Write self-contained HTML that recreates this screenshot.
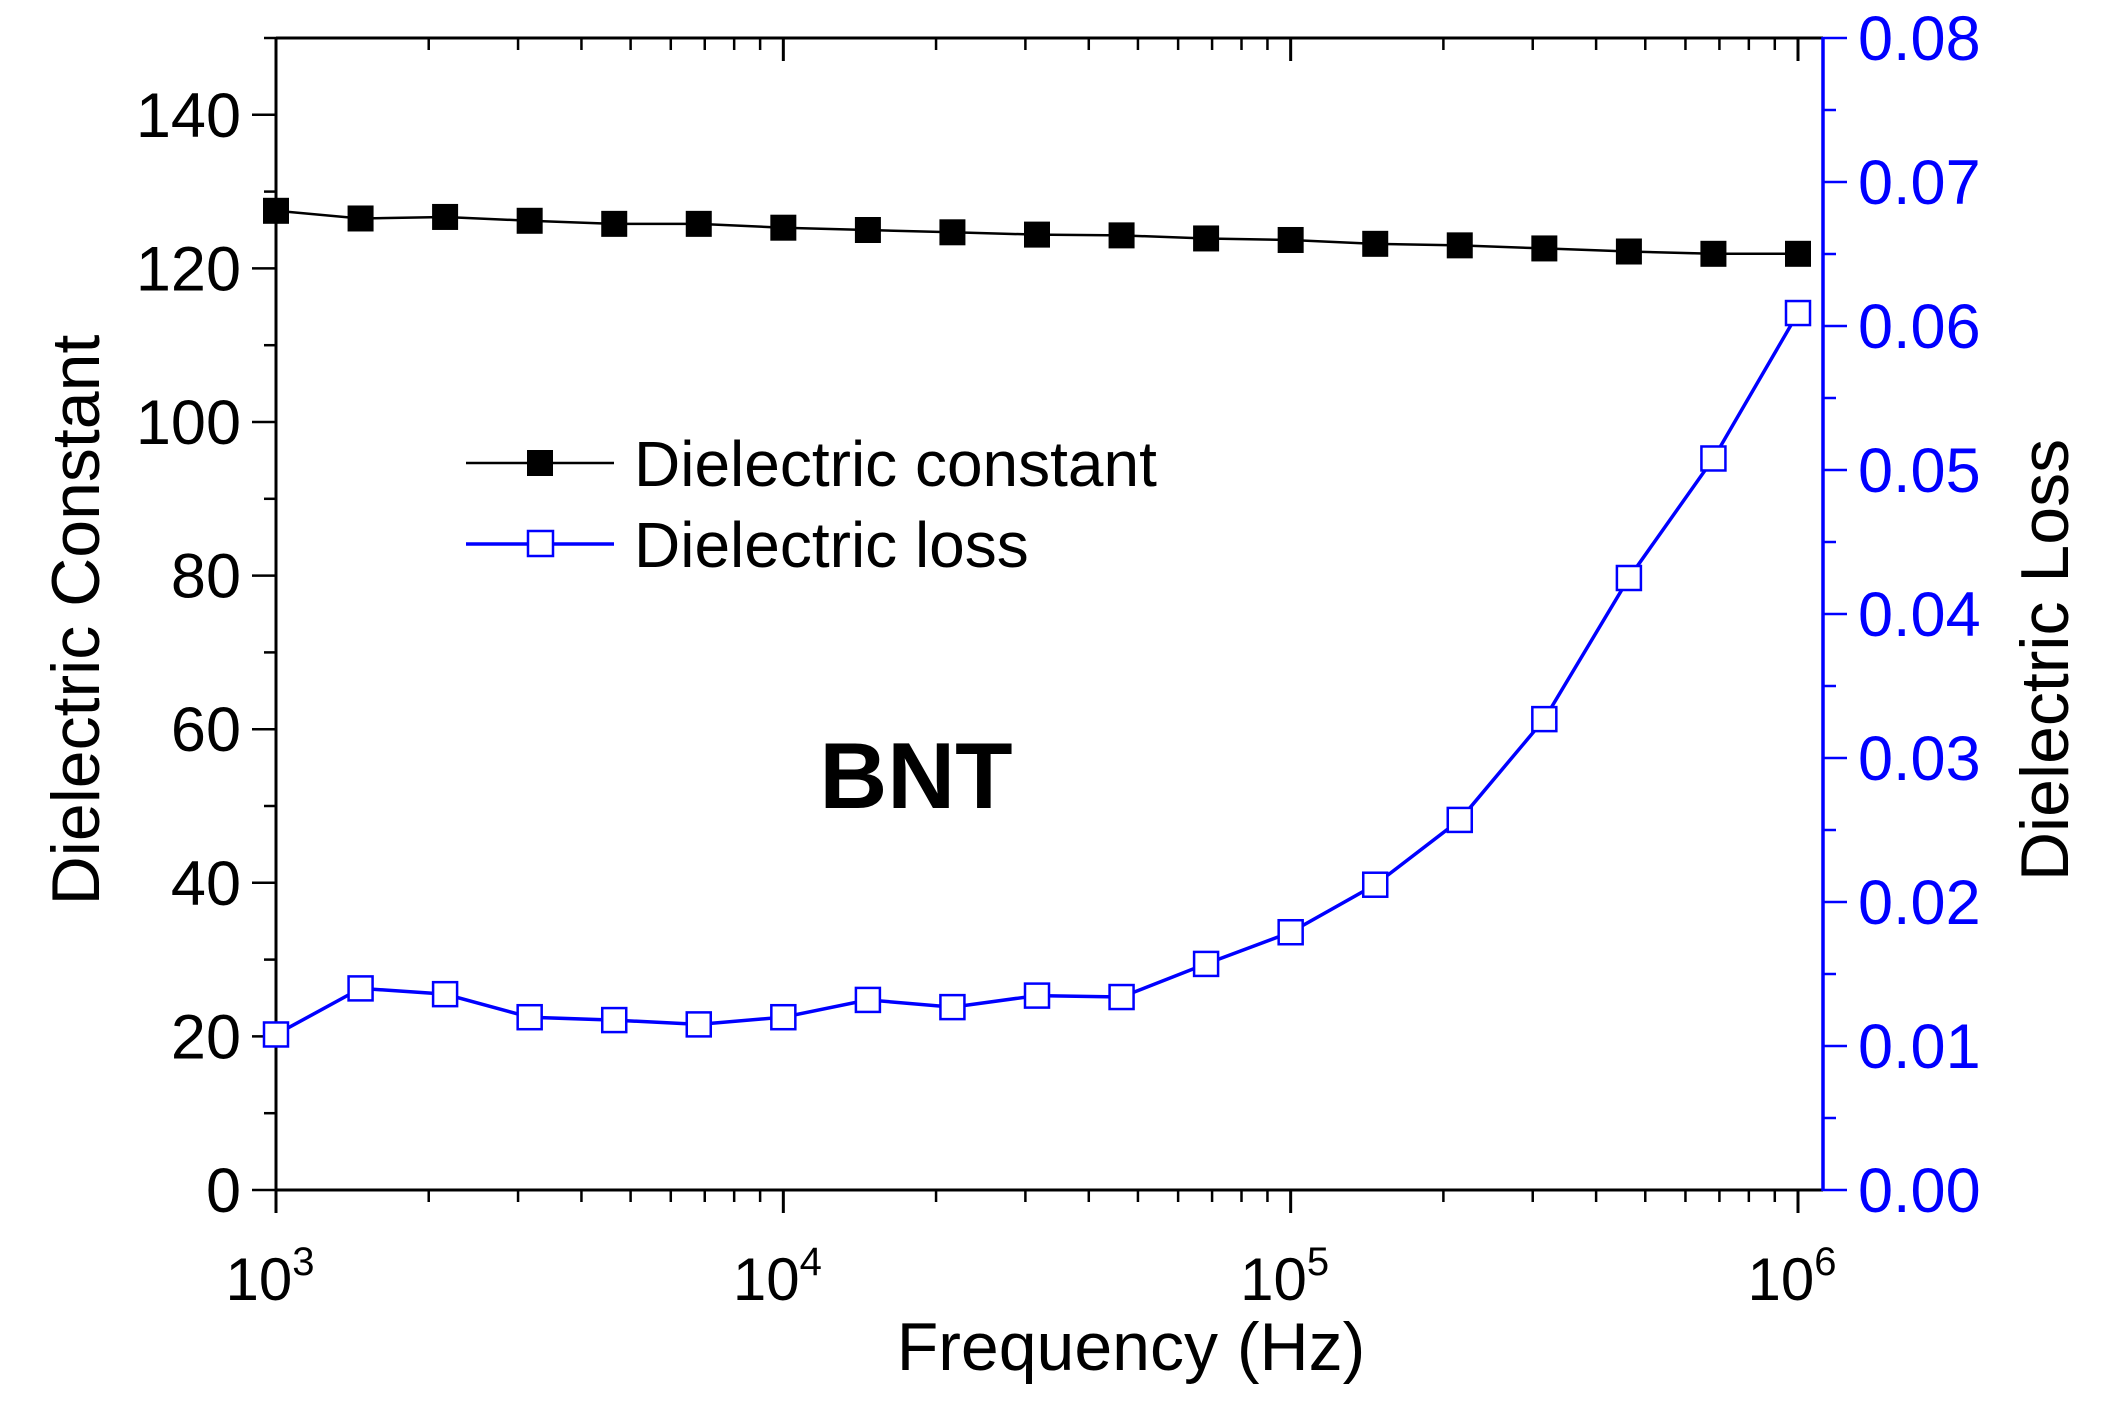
<!DOCTYPE html>
<html><head><meta charset="utf-8"><style>
body{margin:0;background:#fff}
svg text{font-family:"Liberation Sans",Arial,sans-serif}
</style></head><body>
<svg id="chart" width="2112" height="1414" viewBox="0 0 2112 1414" xmlns="http://www.w3.org/2000/svg">
<g id="axes"></g>
<g id="series"></g>
<g>
  <line x1="466" y1="463" x2="614" y2="463" stroke="#000" stroke-width="2.5"/>
  <rect x="527" y="450" width="26" height="26" fill="#000"/>
  <text x="634" y="486" font-size="64">Dielectric constant</text>
  <line x1="466" y1="544" x2="614" y2="544" stroke="#00f" stroke-width="3.5"/>
  <rect x="528" y="531" width="25" height="25" fill="#fff" stroke="#00f" stroke-width="2.5"/>
  <text x="634" y="567" font-size="64">Dielectric loss</text>
</g>
<text x="916" y="808" font-size="94" font-weight="bold" text-anchor="middle">BNT</text>
<text x="1131" y="1370" font-size="68" text-anchor="middle">Frequency (Hz)</text>
<text x="0" y="0" font-size="68" text-anchor="middle" transform="translate(99,620) rotate(-90)">Dielectric Constant</text>
<text x="0" y="0" font-size="68" text-anchor="middle" transform="translate(2068,660) rotate(-90)">Dielectric Loss</text>
</svg>
<script>
const freqExponents=[3,3.1667,3.3333,3.5,3.6667,3.8333,4,4.1667,4.3333,4.5,4.6667,4.8333,5,5.1667,5.3333,5.5,5.6667,5.8333,6];
const dielectricConstant=[127.5,126.5,126.7,126.2,125.8,125.8,125.3,125.0,124.7,124.4,124.3,123.9,123.7,123.2,123.0,122.6,122.2,121.9,121.9];
const dielectricLoss=[0.0108,0.0140,0.0136,0.0120,0.0118,0.0115,0.0120,0.0132,0.0127,0.0135,0.0134,0.0157,0.0179,0.0212,0.0257,0.0327,0.0425,0.0508,0.0609];
const leftTicks=[0,20,40,60,80,100,120,140];
const rightTicks=["0.00","0.01","0.02","0.03","0.04","0.05","0.06","0.07","0.08"];
const xDecades=[3,4,5,6];

const X0=276,X1=1798,XR=1823,YT=38,YB=1190;
const xs=e=>X0+(e-3)/3*(X1-X0);
const yl=v=>YB-v/150*(YB-YT);
const yr=v=>YB-v/0.08*(YB-YT);
const NS="http://www.w3.org/2000/svg";
function mk(tag,attrs,parent){const el=document.createElementNS(NS,tag);for(const k in attrs)el.setAttribute(k,attrs[k]);parent.appendChild(el);return el;}
const ax=document.getElementById('axes'),se=document.getElementById('series');

let el;
el=mk('line',{x1:X0,y1:YB,x2:XR,y2:YB,stroke:'#000','stroke-width':3},ax);


el=mk('line',{x1:X0,y1:YT,x2:XR,y2:YT,stroke:'#000','stroke-width':3},ax);


el=mk('line',{x1:X0,y1:YT,x2:X0,y2:YB,stroke:'#000','stroke-width':3},ax);


el=mk('line',{x1:XR,y1:YT-1,x2:XR,y2:YB+1,stroke:'#00f','stroke-width':3.5},ax);



for(let d=3;d<=6;d++){
  const x=xs(d);
  el=mk('line',{x1:x,y1:YB,x2:x,y2:YB+23,stroke:'#000','stroke-width':3},ax);
  
  
  el=mk('line',{x1:x,y1:YT,x2:x,y2:YT+23,stroke:'#000','stroke-width':3},ax);
  
  
  if(d<6)for(let m=2;m<=9;m++){
    const xm=xs(d+Math.log10(m));
    el=mk('line',{x1:xm,y1:YB,x2:xm,y2:YB+12,stroke:'#000','stroke-width':2.5},ax);
    
    
    el=mk('line',{x1:xm,y1:YT,x2:xm,y2:YT+12,stroke:'#000','stroke-width':2.5},ax);
    
    
  }
}
xDecades.forEach(d=>{
  const t=mk('text',{x:xs(d)-6,y:1300,'font-size':60,'text-anchor':'middle'},ax);
  
  
  t.textContent='10';
  const s=mk('tspan',{dy:-25,'font-size':40},t);s.textContent=String(d);
});
for(let v=0;v<=150;v+=10){
  const major=v%20===0;
  el=mk('line',{x1:X0-(major?24:12),y1:yl(v),x2:X0,y2:yl(v),stroke:'#000','stroke-width':2.5},ax);
  
  
}
leftTicks.forEach(v=>{
  const t=mk('text',{x:241,y:yl(v)+22,'font-size':63,'text-anchor':'end'},ax);
  
  
  t.textContent=String(v);
});
for(let i=0;i<=16;i++){
  const v=i*0.005,major=i%2===0;
  el=mk('line',{x1:XR,y1:yr(v),x2:XR+(major?24:13),y2:yr(v),stroke:'#00f','stroke-width':2.5},ax);
  
  
}
rightTicks.forEach(s=>{
  const t=mk('text',{x:1858,y:yr(parseFloat(s))+22,'font-size':63,fill:'#00f'},ax);
  
  
  t.textContent=s;
});
const ptsC=freqExponents.map((e,i)=>xs(e)+','+yl(dielectricConstant[i])).join(' ');
el=mk('polyline',{points:ptsC,fill:'none',stroke:'#000','stroke-width':2.5},se);


const ptsL=freqExponents.map((e,i)=>xs(e)+','+yr(dielectricLoss[i])).join(' ');
el=mk('polyline',{points:ptsL,fill:'none',stroke:'#00f','stroke-width':3.5},se);


freqExponents.forEach((e,i)=>{
  const r=mk('rect',{x:xs(e)-13,y:yl(dielectricConstant[i])-13,width:26,height:26,fill:'#000'},se);
  
  
  const q=mk('rect',{x:xs(e)-12,y:yr(dielectricLoss[i])-12,width:24,height:24,fill:'#fff',stroke:'#00f','stroke-width':2.5},se);
  
  
});
</script>
</body></html>
